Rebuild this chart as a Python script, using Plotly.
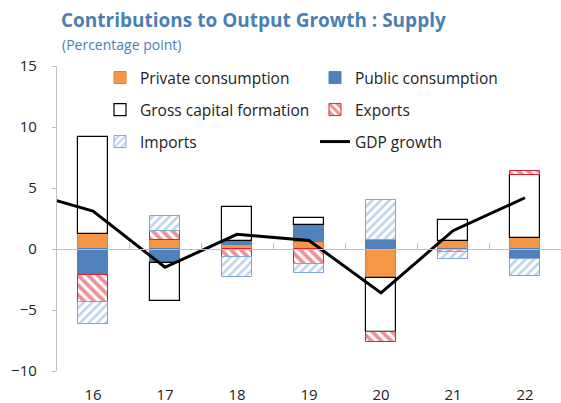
import plotly.graph_objects as go

# ── data (percentage-point contributions) ─────────────────────────────────────
years = [16, 17, 18, 19, 20, 21, 22]
year_labels = ["16", "17", "18", "19", "20", "21", "22"]

private_cons = [1.25, 0.71, 0.33, 0.57, -2.40, 0.63, 0.88]
public_cons = [-2.13, -1.17, 0.33, 1.37, 0.74, -0.10, -0.80]
gross_capital = [7.95, -3.12, 2.80, 0.63, -4.38, 1.72, 5.21]
exports = [-2.19, 0.74, -0.63, -1.23, -0.82, -0.15, 0.33]
imports = [-1.83, 1.23, -1.69, -0.71, 3.25, -0.60, -1.45]

# GDP growth; the 2015 value only shows as the clipped segment at the left edge
gdp_years = [15, 16, 17, 18, 19, 20, 21, 22]
gdp_growth = [4.8, 3.1, -1.5, 1.2, 0.7, -3.6, 1.5, 4.2]

# ── styles ────────────────────────────────────────────────────────────────────
FONT = "Open Sans"
TITLE_BLUE = "#4a7fb3"
GREY_AXIS = "#bfbfbf"
ORANGE = "#f79646"
BLUE = "#4f81bd"
RED = "#dc2430"
LIGHT_BLUE = "#7ea6d6"
BAR_W = 0.41

fig = go.Figure()

fig.add_trace(go.Bar(
    x=years, y=private_cons, name="Private consumption", width=BAR_W,
    marker=dict(color=ORANGE, line=dict(color="#e8782e", width=1)),
    legend="legend",
))
fig.add_trace(go.Bar(
    x=years, y=public_cons, name="Public consumption", width=BAR_W,
    marker=dict(color=BLUE, line=dict(color=BLUE, width=1)),
    legend="legend2",
))
fig.add_trace(go.Bar(
    x=years, y=gross_capital, name="Gross capital formation", width=BAR_W,
    marker=dict(color="white", line=dict(color="black", width=1.2)),
    legend="legend3",
))
fig.add_trace(go.Bar(
    x=years, y=exports, name="Exports", width=BAR_W,
    marker=dict(
        color="white", line=dict(color=RED, width=1),
        pattern=dict(shape="\\", fgcolor=RED, bgcolor="white",
                     size=7, solidity=0.55, fillmode="overlay"),
    ),
    legend="legend4",
))
fig.add_trace(go.Bar(
    x=years, y=imports, name="Imports", width=BAR_W,
    marker=dict(
        color="white", line=dict(color=LIGHT_BLUE, width=1),
        pattern=dict(shape="/", fgcolor=LIGHT_BLUE, bgcolor="white",
                     size=6, solidity=0.42, fillmode="overlay"),
    ),
    legend="legend5",
))
fig.add_trace(go.Scatter(
    x=gdp_years, y=gdp_growth, name="GDP growth", mode="lines",
    line=dict(color="black", width=3),
    legend="legend6",
))

# zero-line axis with the small upward category-boundary ticks
boundaries = [y + 0.5 for y in years[:-1]]
fig.add_trace(go.Scatter(
    x=[years[0]], y=[0], xaxis="x2", mode="markers",
    marker=dict(opacity=0), showlegend=False, hoverinfo="skip",
))

# ── legends: one per entry so the 2-column grid sits where the original does ──
plot_l, plot_w, plot_t, plot_h = 57, 504, 66, 305


def lg(px, py):
    return dict(
        x=(px - plot_l) / plot_w, y=(plot_t + plot_h - py) / plot_h,
        xanchor="left", yanchor="middle", orientation="h",
        bgcolor="rgba(0,0,0,0)", borderwidth=0,
        font=dict(family=FONT, size=15.5, color="#222"),
    )


fig.update_layout(
    width=561, height=403,
    margin=dict(l=plot_l, r=0, t=plot_t, b=403 - plot_t - plot_h),
    paper_bgcolor="white", plot_bgcolor="white",
    barmode="relative", bargap=0,
    font=dict(family=FONT, size=15, color="#222"),
    title=dict(
        text="<b>Contributions to Output Growth : Supply</b>",
        font=dict(family=FONT, size=19, color=TITLE_BLUE),
        x=61 / 561, xanchor="left", y=1 - 20 / 403, yanchor="middle",
    ),
    annotations=[dict(
        text="(Percentage point)", xref="paper", yref="paper",
        x=(60 - plot_l) / plot_w, y=(plot_t + plot_h - 45) / plot_h,
        xanchor="left", yanchor="middle", showarrow=False,
        font=dict(family=FONT, size=14, color=TITLE_BLUE),
    )],
    legend=lg(100, 78),
    legend2=lg(315, 78),
    legend3=lg(100, 110),
    legend4=lg(315, 110),
    legend5=lg(100, 142),
    legend6=lg(315, 142),
    xaxis=dict(
        range=[years[0] - 0.5, years[-1] + 0.5],
        tickvals=years, ticktext=year_labels,
        showline=False, ticks="", showgrid=False, zeroline=False,
        ticklabelstandoff=13, automargin=False,
        tickfont=dict(family=FONT, size=15, color="#222"),
    ),
    xaxis2=dict(
        overlaying="x", anchor="free", position=0.4,
        range=[years[0] - 0.5, years[-1] + 0.5],
        tickvals=boundaries, ticks="inside", ticklen=6,
        tickcolor=GREY_AXIS, showticklabels=False,
        showline=True, linecolor=GREY_AXIS, linewidth=1.3,
        showgrid=False, zeroline=False,
    ),
    yaxis=dict(
        range=[-10, 15], dtick=5, tick0=0,
        showline=True, linecolor=GREY_AXIS, linewidth=1.3,
        ticks="outside", ticklen=4, tickcolor=GREY_AXIS,
        showgrid=False, zeroline=False,
        ticklabelstandoff=12, automargin=False,
        tickfont=dict(family=FONT, size=15, color="#222"),
    ),
)

# the page's default body margin would shift the fixed-size figure by 8px
fig.write_html(
    "out.html",
    config={"displayModeBar": False},
    post_script="document.body.style.margin='0';",
)
